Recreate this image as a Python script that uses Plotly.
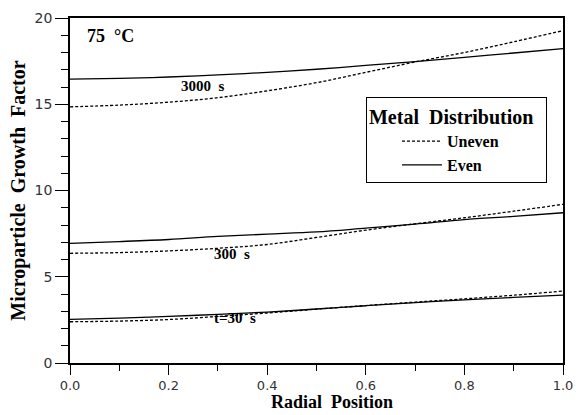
import plotly.graph_objects as go

radial = [0.0, 0.1, 0.2, 0.3, 0.4, 0.5, 0.6, 0.7, 0.8, 0.9, 1.0]

even_3000 = [16.46, 16.50, 16.58, 16.70, 16.85, 17.03, 17.25, 17.47, 17.72, 17.97, 18.22]
uneven_3000 = [14.85, 14.95, 15.12, 15.38, 15.78, 16.25, 16.85, 17.45, 18.00, 18.62, 19.27]
even_300 = [6.94, 7.04, 7.16, 7.34, 7.47, 7.60, 7.82, 8.05, 8.31, 8.50, 8.71]
uneven_300 = [6.36, 6.40, 6.50, 6.65, 6.87, 7.28, 7.70, 8.07, 8.42, 8.80, 9.20]
even_30 = [2.53, 2.60, 2.70, 2.82, 2.95, 3.13, 3.32, 3.50, 3.66, 3.80, 3.94]
uneven_30 = [2.39, 2.43, 2.52, 2.70, 2.90, 3.12, 3.33, 3.53, 3.72, 3.93, 4.17]

labels = [("75\u00a0\u00a0°C", 0.03, 18.96, 18, "left"),
          ("3000\u00a0\u00a0s", 0.27, 16.06, 15, "center"),
          ("300\u00a0\u00a0s", 0.329, 6.32, 15, "center"),
          ("t=30\u00a0\u00a0s", 0.335, 2.62, 15, "center")]

x_title = "Radial\u00a0\u00a0Position"
y_title = "Microparticle\u00a0\u00a0Growth\u00a0\u00a0Factor"
legend_title = "Metal\u00a0\u00a0Distribution"

fig = go.Figure()
serif = "Liberation Serif"
line_w = 1.3

series = [(uneven_3000, "dash", "Uneven", True), (even_3000, "solid", "Even", True),
          (uneven_300, "dash", "Uneven", False), (even_300, "solid", "Even", False),
          (uneven_30, "dash", "Uneven", False), (even_30, "solid", "Even", False)]
for ys, dash, name, show in series:
    fig.add_trace(go.Scatter(
        x=radial, y=ys, mode="lines", name="<b>" + name + "</b>", showlegend=show,
        legendrank=1 if name == "Uneven" else 2,
        line=dict(color="black", width=line_w,
                  dash="3px,2px" if dash == "dash" else "solid", shape="spline"),
    ))

for text, x, y, size, anchor in labels:
    fig.add_annotation(x=x, y=y, text="<b>" + text + "</b>", showarrow=False,
                       xanchor=anchor, yanchor="middle",
                       font=dict(family=serif, size=size, color="black"))

# x-axis title (placed as paper annotation to sit like the reference)
fig.add_annotation(xref="paper", yref="paper", x=0.531, y=-0.147,
                   text="<b>" + x_title + "</b>", showarrow=False,
                   xanchor="center", yanchor="bottom",
                   font=dict(family=serif, size=18, color="black"))

axis_common = dict(showline=True, linecolor="black", linewidth=1.6, mirror=True,
                   ticks="outside", tickcolor="black", showgrid=False, zeroline=False,
                   automargin=False)

fig.update_xaxes(range=[0, 1.0], dtick=0.2, tickformat=".1f", ticklen=10, tickwidth=1.2,
                 ticklabelstandoff=0,
                 tickfont=dict(family="DejaVu Sans", size=13, color="#333"),
                 minor=dict(dtick=0.1, ticklen=6, ticks="outside", tickcolor="black", tickwidth=1.2),
                 **axis_common)
fig.update_yaxes(range=[0, 20], dtick=5, ticklen=13, tickwidth=1.2,
                 tickfont=dict(family="DejaVu Sans", size=14, color="#333"),
                 minor=dict(dtick=1, ticklen=7, ticks="outside", tickcolor="black", tickwidth=1.2),
                 title=dict(text="<b>" + y_title + "</b>", standoff=4,
                            font=dict(family=serif, size=20, color="black")),
                 **axis_common)

fig.update_layout(
    width=576, height=415,
    margin=dict(l=70, r=13, t=18, b=52),
    plot_bgcolor="white", paper_bgcolor="white",
    legend=dict(x=0.600, y=0.771, xanchor="left", yanchor="top",
                bordercolor="black", borderwidth=1.2, bgcolor="white",
                indentation=30, tracegroupgap=0, itemwidth=40,
                title=dict(text="<b>" + legend_title + "\u00a0\u00a0</b>", side="top",
                           font=dict(family=serif, size=20, color="black")),
                font=dict(family=serif, size=16, color="black")),
)

fig.write_html("out.html")
